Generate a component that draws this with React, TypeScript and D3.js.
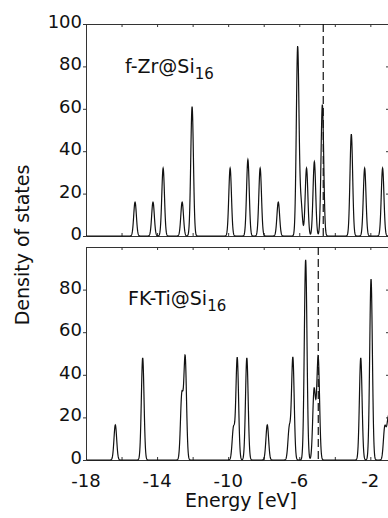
import React, { useEffect, useRef } from 'react';
import * as d3 from 'd3';

// f-Zr@Si16 levels: energy (eV) and peak height
const zrEnergies = [-15.24, -14.23, -13.66, -12.59, -12.03, -9.89, -8.89, -8.2, -7.18, -6.09, -5.9, -5.59, -5.15, -4.7, -3.07, -2.32, -1.31];
const zrHeights = [16, 16, 32, 16, 61, 32, 36, 32, 16, 89, 15, 32, 35, 62, 48, 32, 32];

// FK-Ti@Si16 levels
const tiEnergies = [-16.35, -14.81, -12.61, -12.42, -9.7, -9.49, -8.95, -7.8, -6.56, -6.36, -5.64, -5.17, -5.05, -4.93, -2.54, -1.96, -1.19, -1.02, -0.9];
const tiHeights = [16.5, 48, 30, 48, 15, 48, 48, 16.5, 15, 48, 94, 31, 8, 46, 48, 85, 15, 14, 15];

const fermiZr = -4.65;
const fermiTi = -4.93;

const xTickLabels = [-18, -14, -10, -6, -2];
const xTicks = [-18, -16, -14, -12, -10, -8, -6, -4, -2];
const yTicksTop = [0, 20, 40, 60, 80, 100];
const yTicksBottom = [0, 20, 40, 60, 80];

const font = '"DejaVu Sans", "Liberation Sans", sans-serif';

// gaussian broadening of the discrete levels
const broaden = (energies: number[], heights: number[], sigma: number) => {
  const grid = d3.range(-18, -0.5, 0.01);
  return grid.map(e => {
    let v = 0;
    energies.forEach((e0, i) => {
      v += heights[i] * Math.exp(-((e - e0) ** 2) / (2 * sigma * sigma));
    });
    return [e, v] as [number, number];
  });
};

const App = () => {
  const svgRef = useRef<SVGSVGElement>(null);

  useEffect(() => {
    const width = 388;
    const height = 518;
    const left = 86;
    const right = 389;

    const svg = d3.select(svgRef.current);
    svg.selectAll('*').remove();
    svg.attr('width', width).attr('height', height);

    const x = d3.scaleLinear().domain([-18, -0.95]).range([left, right]);

    const panels = [
      { top: 24, bottom: 236, energies: zrEnergies, heights: zrHeights, fermi: fermiZr, yTicks: yTicksTop, name: 'f-Zr@Si', lx: 125, ly: 73, last: false },
      { top: 247, bottom: 460, energies: tiEnergies, heights: tiHeights, fermi: fermiTi, yTicks: yTicksBottom, name: 'FK-Ti@Si', lx: 128, ly: 305, last: true },
    ];

    panels.forEach(p => {
      const y = d3.scaleLinear().domain([0, 100]).range([p.bottom, p.top]);
      const g = svg.append('g');

      // frame + ticks
      const styleAxis = (sel: any) => {
        sel.select('.domain').attr('stroke', '#333').attr('stroke-width', 1);
        sel.selectAll('.tick line').attr('stroke', '#333');
        sel.selectAll('.tick text').remove();
      };
      g.append('g').attr('transform', `translate(0,${p.top})`)
        .call(d3.axisTop(x).tickValues(xTicks).tickSizeInner(-3).tickSizeOuter(0)).call(styleAxis);
      g.append('g').attr('transform', `translate(0,${p.bottom})`)
        .call(d3.axisBottom(x).tickValues(xTicks).tickSizeInner(-3).tickSizeOuter(0)).call(styleAxis);
      g.append('g').attr('transform', `translate(${left},0)`)
        .call(d3.axisLeft(y).tickValues(p.yTicks).tickSizeInner(3).tickSizeOuter(0)).call(styleAxis);
      g.append('g').attr('transform', `translate(${right},0)`)
        .call(d3.axisRight(y).tickValues(p.yTicks).tickSizeInner(-3).tickSizeOuter(0)).call(styleAxis);

      // y tick labels
      g.selectAll('text.ylab')
        .data(p.yTicks)
        .enter()
        .append('text')
        .attr('x', left - 4)
        .attr('y', d => y(d) + 4)
        .attr('text-anchor', 'end')
        .style('font-family', font)
        .style('font-size', '18px')
        .attr('fill', '#111')
        .text(d => d);

      // DOS curve
      const line = d3.line<[number, number]>().x(d => x(d[0])).y(d => y(d[1]));
      g.append('path')
        .datum(broaden(p.energies, p.heights, 0.075))
        .attr('d', line)
        .attr('fill', 'none')
        .attr('stroke', '#111')
        .attr('stroke-width', 1.2);

      // Fermi level
      g.append('line')
        .attr('x1', x(p.fermi)).attr('x2', x(p.fermi))
        .attr('y1', p.top).attr('y2', p.bottom)
        .attr('stroke', '#111')
        .attr('stroke-width', 1.2)
        .attr('stroke-dasharray', '8,4');

      // label
      const t = g.append('text')
        .attr('x', p.lx)
        .attr('y', p.ly)
        .style('font-family', font)
        .style('font-size', '19px')
        .attr('fill', '#111');
      t.append('tspan').text(p.name);
      t.append('tspan').attr('dy', 6).style('font-size', '15px').text('16');

      if (p.last) {
        g.selectAll('text.xlab')
          .data(xTickLabels)
          .enter()
          .append('text')
          .attr('x', d => x(d))
          .attr('y', p.bottom + 27)
          .attr('text-anchor', 'middle')
          .style('font-family', font)
          .style('font-size', '18px')
          .attr('fill', '#111')
          .text(d => d);
      }
    });

    // axis titles
    svg.append('text')
      .attr('x', 241)
      .attr('y', 507)
      .attr('text-anchor', 'middle')
      .style('font-family', font)
      .style('font-size', '19px')
      .attr('fill', '#111')
      .text('Energy [eV]');

    svg.append('text')
      .attr('transform', 'rotate(-90)')
      .attr('x', -245)
      .attr('y', 29)
      .attr('text-anchor', 'middle')
      .style('font-family', font)
      .style('font-size', '19px')
      .attr('fill', '#111')
      .text('Density of states');
  }, []);

  return (
    <div style={{ position: 'absolute', left: 0, top: 0 }}>
      <svg ref={svgRef} style={{ display: 'block', background: '#fff' }}></svg>
    </div>
  );
};

export default App;
